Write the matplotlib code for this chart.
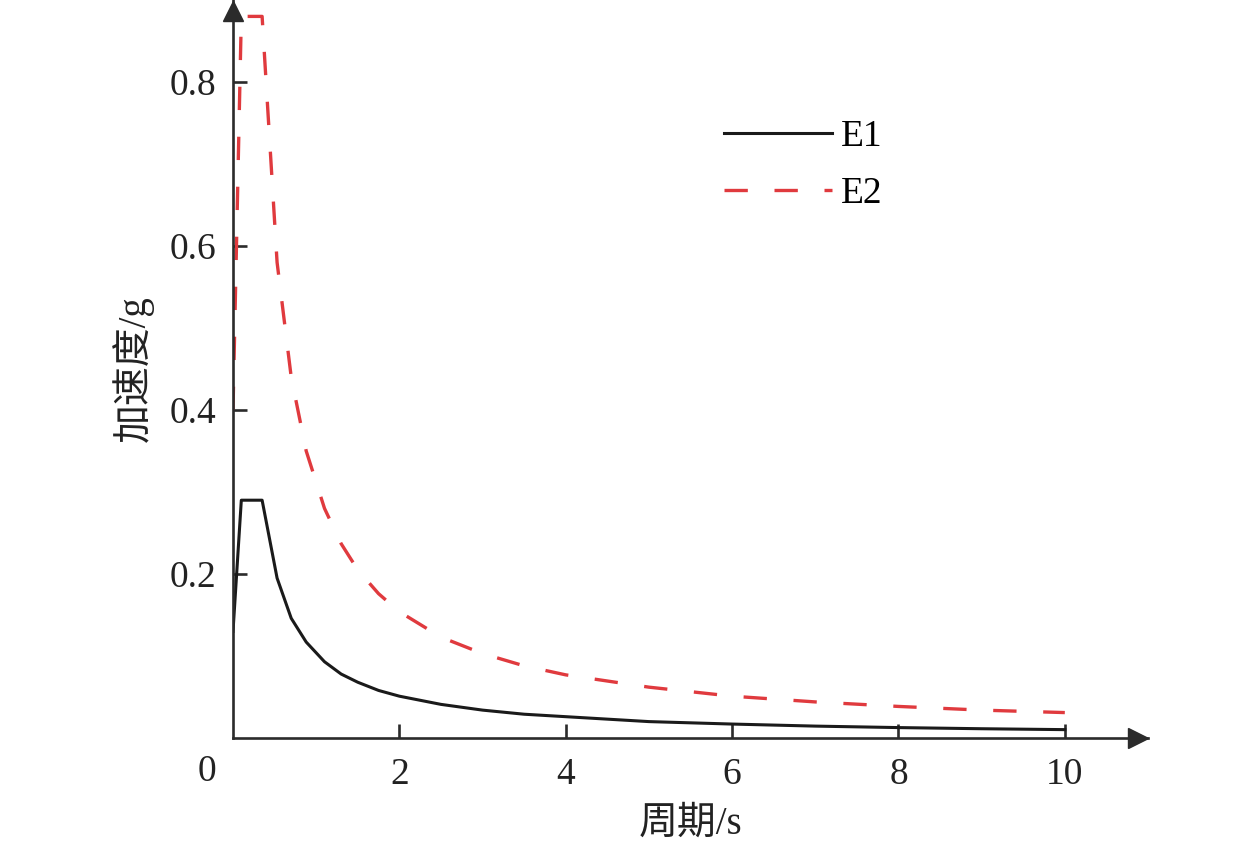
import matplotlib
matplotlib.use("Agg")
import matplotlib.pyplot as plt

# Values
period = [0, 0.1, 0.35, 0.53, 0.7, 0.88, 1.1, 1.3, 1.5, 1.75, 2, 2.5, 3,
          3.5, 4, 5, 6, 7, 8, 9, 10]
e1_acc = [0.13, 0.29, 0.29, 0.195, 0.146, 0.117, 0.093, 0.078, 0.068,
          0.058, 0.051, 0.041, 0.034, 0.029, 0.026, 0.020, 0.017, 0.0145,
          0.0127, 0.0113, 0.0102]
e2_acc = [0.40, 0.88, 0.88, 0.58, 0.44, 0.35, 0.28, 0.237, 0.205, 0.176,
          0.154, 0.123, 0.103, 0.088, 0.077, 0.062, 0.051, 0.044, 0.0385,
          0.034, 0.031]
x_ticks = [2, 4, 6, 8, 10]
y_ticks = [0.2, 0.4, 0.6, 0.8]
series_names = ["E1", "E2"]


def main():
    '''Draws the two response spectra with arrow-ended axes'''
    plt.rcParams['font.family'] = ['Liberation Serif', 'Noto Sans CJK SC']
    fs = 27
    text_color = "#222222"
    axis_color = "#2b2b2b"

    fig = plt.figure(figsize=(12.6, 8.44), dpi=100)
    ax = fig.add_axes([233 / 1260, 106 / 844, 915 / 1260, 738 / 844])

    ax.plot(period, e1_acc, color="#1a1a1a", lw=2.2, label=series_names[0])
    ax.plot(period, e2_acc, color="#e03a3e", lw=2.4, dashes=(7, 8),
            label=series_names[1])

    ax.set_xlim(0, 11)
    ax.set_ylim(0, 0.9)

    # Axes: only left and bottom, ending in arrowheads
    for side in ("top", "right"):
        ax.spines[side].set_visible(False)
    for side in ("left", "bottom"):
        ax.spines[side].set_color(axis_color)
        ax.spines[side].set_linewidth(1.9)
    ax.plot(1 - 10.5 / 915, 0, marker=">", ms=15, color=axis_color,
            transform=ax.transAxes, clip_on=False)
    ax.plot(0, 1 - 10.5 / 738, marker="^", ms=15, color=axis_color,
            transform=ax.transAxes, clip_on=False)

    ax.set_xticks(x_ticks)
    ax.set_xticklabels([str(t) for t in x_ticks])
    ax.set_yticks(y_ticks)
    ax.set_yticklabels([f"{t:.1f}" for t in y_ticks])
    ax.tick_params(direction="in", length=10, width=1.9, color=axis_color,
                   labelsize=fs, labelcolor=text_color)
    ax.tick_params(axis="x", pad=14)
    ax.tick_params(axis="y", pad=12)

    # origin label sits left of the corner
    ax.annotate("0", xy=(0, 0), xycoords="data", xytext=(-26, -34),
                textcoords="offset pixels", ha="center", va="center",
                fontsize=fs, color=text_color)

    ax.set_xlabel("周期/s", fontsize=28, color=text_color, labelpad=10)
    ax.set_ylabel("加速度/g", fontsize=28, color=text_color, labelpad=11)

    ax.legend(loc="upper left", bbox_to_anchor=(0.5366, 0.838),
              frameon=False, fontsize=fs, handlelength=2.88,
              handletextpad=0.24, labelspacing=0.6, borderpad=0,
              borderaxespad=0)

    fig.savefig("out.png", dpi=100)


if __name__ == "__main__":
    main()
